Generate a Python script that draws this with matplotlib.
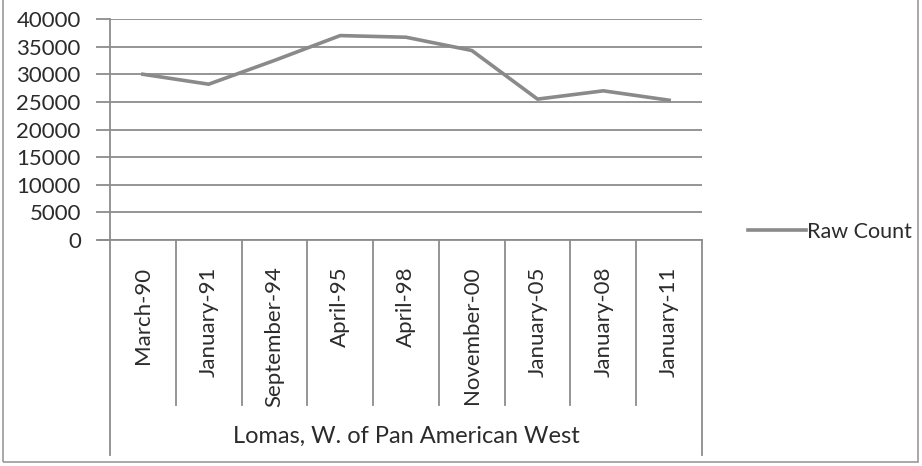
import matplotlib
matplotlib.use('Agg')
import matplotlib.pyplot as plt
from matplotlib.patches import Rectangle

plt.rcParams['font.family'] = ['Lato', 'DejaVu Sans']

dates = ['March-90', 'January-91', 'September-94', 'April-95', 'April-98',
         'November-00', 'January-05', 'January-08', 'January-11']
raw_count = [30000, 28200, 32500, 37000, 36700, 34300, 25500, 27000, 25300]
location = 'Lomas, W. of Pan American West'
series_name = 'Raw Count'
yticks = list(range(0, 40001, 5000))

W, H = 922, 466
fig = plt.figure(figsize=(W / 100, H / 100), dpi=100)
ax = fig.add_axes([110 / W, 1 - 240 / H, 592 / W, 221 / H])

grid_c = '#8c8c8c'
text_c = '#2b2b2b'

x = list(range(len(dates)))
ax.plot(x, raw_count, color='#8a8a8a', lw=2.6, solid_joinstyle='round', label=series_name)

ax.set_xlim(-0.5, len(dates) - 0.5)
ax.set_ylim(0, 40000)
ax.set_yticks(yticks)
ax.set_yticklabels([str(v) for v in yticks])
for v in yticks:
    ax.axhline(v, color=grid_c, lw=1.3, zorder=0)

for s in ['top', 'right', 'bottom']:
    ax.spines[s].set_visible(False)
ax.spines['left'].set_color(grid_c)
ax.spines['left'].set_linewidth(1.3)
ax.tick_params(axis='y', length=10, width=1.3, color=grid_c, pad=11,
               labelsize=16, labelcolor=text_c)

ax.set_xticks(x)
ax.set_xticklabels(dates, rotation=90, fontsize=16, color=text_c)
ax.tick_params(axis='x', length=0, pad=19)

# category table below the axis
tr = ax.get_xaxis_transform()
ax.plot([-0.5 - 0.17, len(dates) - 0.5], [0, 0], transform=tr, color=grid_c,
        lw=1.3, clip_on=False)
for i in range(len(dates) + 1):
    edge = i == 0 or i == len(dates)
    ax.plot([i - 0.5, i - 0.5], [0, -0.975 if edge else -0.745], transform=tr,
            color=grid_c, lw=1.3, clip_on=False)
ax.text((len(dates) - 1) / 2, -0.89, location, transform=tr, ha='center',
        va='center', fontsize=17, color=text_c)

fig.legend(loc='center left', bbox_to_anchor=(737 / W, 1 - 232 / H), frameon=False,
           borderpad=0, fontsize=15.5, handlelength=2.7, handletextpad=0.05,
           labelcolor=text_c)

fig.patches.append(Rectangle((3 / W, 4 / H), 915 / W, 470 / H, transform=fig.transFigure,
                             fill=False, edgecolor='#9a9a9a', lw=1.2))

fig.savefig('out.png', dpi=100)
